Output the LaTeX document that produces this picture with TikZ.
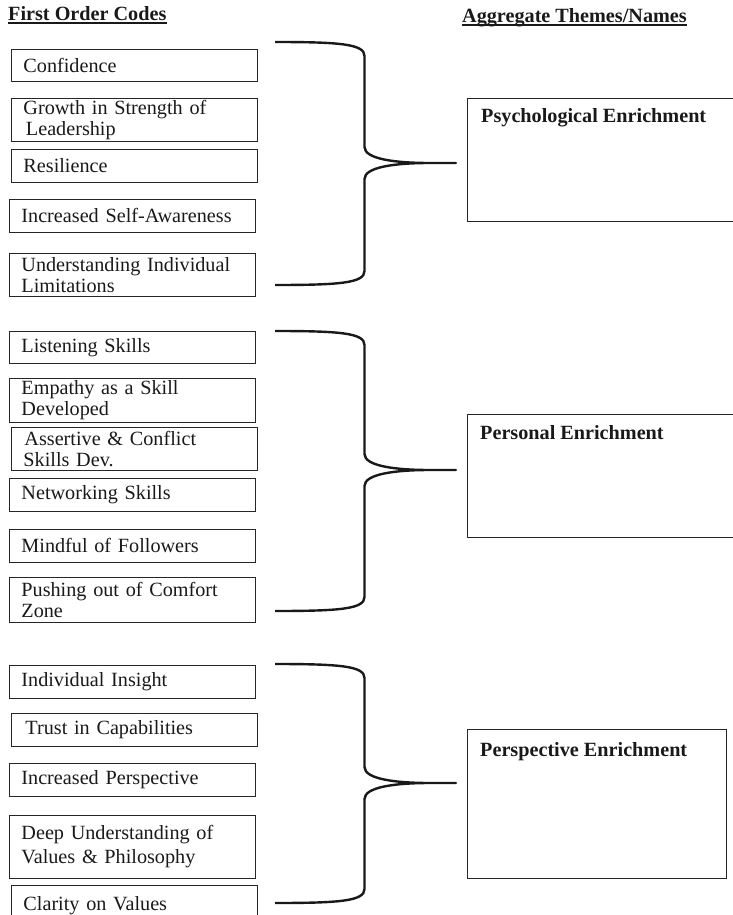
\documentclass[tikz,border=0pt]{standalone}
\usepackage{fontspec}
\setmainfont{Liberation Serif}
\newcommand\mybrace[4]{%
  \coordinate (#1top) at (275,#2);
  \coordinate (#1tip) at (456,#3);
  \coordinate (#1bot) at (275,#4);
  \draw[bracket] (#1top) .. controls (340,#2) and (364.5,#2+2) .. (364.5,#2+14)
    -- (364.5,#3-16) .. controls (364.5,#3-4) and (395,#3) .. (430,#3) -- (#1tip)
    -- (430,#3) .. controls (395,#3) and (364.5,#3+4) .. (364.5,#3+16)
    -- (364.5,#4-14) .. controls (364.5,#4-2) and (340,#4) .. (#1bot);
}
\begin{document}
\begin{tikzpicture}[x=1pt,y=-1pt,
  code/.style={draw=black!85, line width=0.9pt, anchor=north west, inner xsep=12pt, inner ysep=0pt,
    text width=222pt, align=left, font=\fontsize{20.2}{21}\selectfont, text=black!90},
  theme/.style={draw=black!85, line width=0.9pt, anchor=north west, inner sep=0pt},
  themetext/.style={anchor=base west, inner sep=0pt, font=\fontsize{20.2}{24}\selectfont\bfseries, text=black!90},
  head/.style={anchor=base west, inner sep=0pt, font=\fontsize{20.2}{24}\selectfont\bfseries, text=black!90},
  bracket/.style={line width=2.4pt, draw=black!90, line join=round}]
\useasboundingbox (0,0) rectangle (733,915);

% headers
\node[head] (h1) at (8,20.5) {First Order Codes};
\node[head] (h2) at (462,22.5) {Aggregate Themes/Names};
\draw[line width=1.3pt, black!90] ([yshift=-2.5pt]h1.base west) -- ([yshift=-2.5pt]h1.base east);
\draw[line width=1.3pt, black!90] ([yshift=-2.5pt]h2.base west) -- ([yshift=-2.5pt]h2.base east);

% group 1
\node[code, minimum height=32pt] (c1) at (11,49) {Confidence};
\node[code, minimum height=43pt] (c2) at (11,98) {Growth in Strength of\\\hspace*{2.5pt}Leadership};
\node[code, minimum height=33pt] (c3) at (11,149) {Resilience};
\node[code, minimum height=33pt] (c4) at (9,199) {Increased Self-Awareness};
\node[code, minimum height=43pt] (c5) at (9,253) {Understanding Individual\\Limitations};

% group 2
\node[code, minimum height=32pt] (c6) at (9,331) {Listening Skills};
\node[code, minimum height=44pt] (c7) at (9,378) {Empathy as a Skill\\Developed};
\node[code, minimum height=43pt] (c8) at (11,427) {\hspace*{1pt}Assertive \& Conflict\\Skills Dev.};
\node[code, minimum height=33pt] (c9) at (9,478) {Networking Skills};
\node[code, minimum height=33pt] (c10) at (9,529) {Mindful of Followers};
\node[code, minimum height=45pt] (c11) at (9,577) {Pushing out of Comfort\\Zone};

% group 3
\node[code, minimum height=33pt] (c12) at (9,665) {Individual Insight};
\node[code, minimum height=33pt] (c13) at (11,713) {\hspace*{2pt}Trust in Capabilities};
\node[code, minimum height=33pt] (c14) at (9,763) {Increased Perspective};
\node[code, minimum height=63pt, font=\fontsize{20.2}{24}\selectfont] (c15) at (9,815) {Deep Understanding of\\Values \& Philosophy};
\node[code, minimum height=40pt] (c16) at (11,885) {Clarity on Values};

% theme boxes
\node[theme, minimum width=273pt, minimum height=123pt] (psy) at (467,98) {};
\node[themetext] (psyT) at (481,123) {Psychological Enrichment};
\node[theme, minimum width=273pt, minimum height=123pt] (per) at (467,414) {};
\node[themetext] (perT) at (480,439) {Personal Enrichment};
\node[theme, minimum width=259pt, minimum height=149pt] (pst) at (467,729) {};
\node[themetext] (pstT) at (480,756) {Perspective Enrichment};

% braces
\mybrace{ba}{42}{163}{285}
\mybrace{bb}{331}{470}{611}
\mybrace{bc}{664}{783}{903}
\end{tikzpicture}
\end{document}
